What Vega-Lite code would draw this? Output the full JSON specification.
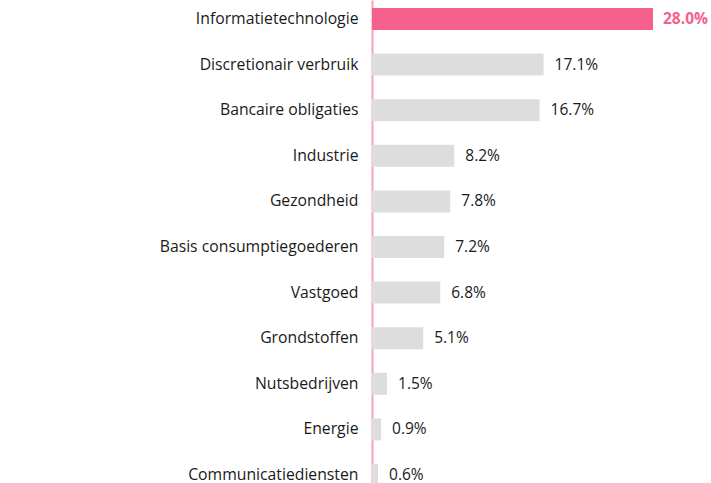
{
  "$schema": "https://vega.github.io/schema/vega-lite/v6.json",
  "autosize": {"type": "none"},
  "padding": {"left": 372, "top": 0, "right": 58, "bottom": 0},
  "width": 281,
  "height": 494,
  "background": "white",
  "config": {"view": {"stroke": null}, "font": "Open Sans"},
  "data": {"values": [
    {"sector": "Informatietechnologie", "value": 28.0},
    {"sector": "Discretionair verbruik", "value": 17.1},
    {"sector": "Bancaire obligaties", "value": 16.7},
    {"sector": "Industrie", "value": 8.2},
    {"sector": "Gezondheid", "value": 7.8},
    {"sector": "Basis consumptiegoederen", "value": 7.2},
    {"sector": "Vastgoed", "value": 6.8},
    {"sector": "Grondstoffen", "value": 5.1},
    {"sector": "Nutsbedrijven", "value": 1.5},
    {"sector": "Energie", "value": 0.9},
    {"sector": "Communicatiediensten", "value": 0.6}
  ]},
  "transform": [{"calculate": "format(datum.value, '.1f') + '%'", "as": "label"}],
  "encoding": {
    "y": {"field": "sector", "type": "nominal", "sort": null,
      "scale": {"paddingInner": 0.5175, "paddingOuter": 0.1754},
      "axis": {"title": null, "ticks": false, "domainColor": "#f7a1bd", "domainWidth": 2, "labelPadding": 14, "labelLimit": 400, "labelFontSize": 15.75, "labelColor": "#1a1a1a", "labelFont": "Open Sans"}}
  },
  "layer": [
    {"mark": {"type": "bar"},
     "encoding": {
       "x": {"field": "value", "type": "quantitative", "scale": {"domain": [0, 28]}, "axis": null},
       "color": {"condition": {"test": "datum.sector === 'Informatietechnologie'", "value": "#f5608c"}, "value": "#dddddd"}
     }},
    {"transform": [{"filter": "datum.sector !== 'Informatietechnologie'"}],
     "mark": {"type": "text", "align": "left", "baseline": "middle", "dx": 11, "fontSize": 15.5, "font": "Open Sans", "color": "#1a1a1a"},
     "encoding": {
       "x": {"field": "value", "type": "quantitative"},
       "text": {"field": "label"}
     }},
    {"transform": [{"filter": "datum.sector === 'Informatietechnologie'"}],
     "mark": {"type": "text", "align": "left", "baseline": "middle", "dx": 10, "fontSize": 15.5, "font": "Open Sans", "fontWeight": "bold", "color": "#f5608c"},
     "encoding": {
       "x": {"field": "value", "type": "quantitative"},
       "text": {"field": "label"}
     }}
  ]
}
